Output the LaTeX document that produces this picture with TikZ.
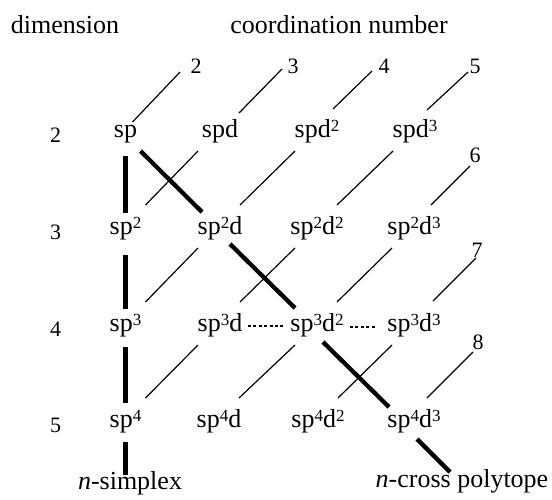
\documentclass[tikz,border=0pt]{standalone}
\usepackage{fontspec}
\setmainfont{Liberation Serif}
\usetikzlibrary{calc}
\newcommand{\su}[1]{\raisebox{3pt}{\fontsize{8.5}{8.5}\selectfont #1}}
\begin{document}
\begin{tikzpicture}[x=0.5pt,y=-0.5pt,
  lab/.style={font=\fontsize{13}{15}\selectfont, inner sep=0pt, text height=5.85pt, text depth=0pt},
  num/.style={font=\fontsize{11}{13}\selectfont, inner sep=0pt, text height=7.4pt, text depth=0pt},
  cline/.style={line width=0.6pt},
  heavy/.style={line width=2.15pt},
  dotline/.style={line width=0.7pt, dash pattern=on 1.5pt off 1.2pt}]
\useasboundingbox (0,0) rectangle (552,499);
% titles
\node[lab] (dim) at (65,28) {dimension};
\node[lab] (coord) at (339,28) {coordination number};
% row labels
\node[num] (r2) at (55.5,135) {2};
\node[num] (r3) at (55.5,232) {3};
\node[num] (r4) at (55.5,329) {4};
\node[num] (r5) at (55.5,425) {5};
% coordination labels
\node[num] (c2) at (196,66) {2};
\node[num] (c3) at (293,66) {3};
\node[num] (c4) at (384,66) {4};
\node[num] (c5) at (475,66) {5};
\node[num] (c6) at (475,155) {6};
\node[num] (c7) at (477,250) {7};
\node[num] (c8) at (478,342) {8};
% grid
\node[lab] (sp)    at (125.5,132) {sp};
\node[lab] (spd)   at (220,132) {spd};
\node[lab] (spd2)  at (317,132) {spd\su{2}};
\node[lab] (spd3)  at (415,132) {spd\su{3}};
\node[lab] (sp2)   at (125.5,229) {sp\su{2}};
\node[lab] (sp2d)  at (220,229) {sp\su{2}d};
\node[lab] (sp2d2) at (317,229) {sp\su{2}d\su{2}};
\node[lab] (sp2d3) at (414,229) {sp\su{2}d\su{3}};
\node[lab] (sp3)   at (125.5,326) {sp\su{3}};
\node[lab] (sp3d)  at (220,326) {sp\su{3}d};
\node[lab] (sp3d2) at (317,326) {sp\su{3}d\su{2}};
\node[lab] (sp3d3) at (414,326) {sp\su{3}d\su{3}};
\node[lab] (sp4)   at (125.5,422) {sp\su{4}};
\node[lab] (sp4d)  at (219,422) {sp\su{4}d};
\node[lab] (sp4d2) at (318,422) {sp\su{4}d\su{2}};
\node[lab] (sp4d3) at (414,422) {sp\su{4}d\su{3}};
% bottom labels
\node[lab] (simplex) at (130,484) {\textit{n}-simplex};
\node[lab] (cross) at (462,482) {\textit{n}-cross polytope};
% thick vertical path (n-simplex)
\draw[heavy] ([shift={(0,24)}]sp.center) -- ([shift={(0,-16)}]sp2.center);
\draw[heavy] ([shift={(0,26)}]sp2.center) -- ([shift={(0,-17)}]sp3.center);
\draw[heavy] ([shift={(0,21)}]sp3.center) -- ([shift={(0,-19)}]sp4.center);
\draw[heavy] ([shift={(0,20)}]sp4.center) -- ($(sp4.center |- simplex.north)+(0,-3)$);
% thick diagonal path (n-cross polytope)
\draw[heavy] ([shift={(15,19)}]sp.center) -- ([shift={(-18,-17)}]sp2d.center);
\draw[heavy] ([shift={(10,15)}]sp2d.center) -- ([shift={(-22,-18)}]sp3d2.center);
\draw[heavy] ([shift={(6,16)}]sp3d2.center) -- ([shift={(-25,-15)}]sp4d3.center);
\draw[heavy] ([shift={(3,17)}]sp4d3.center) -- ([shift={(-12,-10)}]cross.center);
% thin coordination lines
\foreach \a/\b in {sp2/spd, sp3/sp2d, sp2d/spd2, sp4/sp3d, sp3d/sp2d2, sp2d2/spd3, sp4d/sp3d2, sp3d2/sp2d3, sp4d2/sp3d3}
  \draw[cline] ([shift={(20,-24)}]\a.center) -- ([shift={(-22,19)}]\b.center);
\draw[cline] ([shift={(7,-10)}]sp.center) -- ([shift={(-16,6)}]c2.center);
\draw[cline] ([shift={(19,-19)}]spd.center) -- ([shift={(-11,3)}]c3.center);
\draw[cline] ([shift={(16,-23)}]spd2.center) -- ([shift={(-12,5)}]c4.center);
\draw[cline] ([shift={(12,-22)}]spd3.center) -- ([shift={(-7,6)}]c5.center);
\draw[cline] ([shift={(17,-24)}]sp2d3.center) -- ([shift={(-5,11)}]c6.center);
\draw[cline] ([shift={(19,-25)}]sp3d3.center) -- ([shift={(-1,8)}]c7.center);
\draw[cline] ([shift={(13,-24)}]sp4d3.center) -- ([shift={(-5,10)}]c8.center);
% dotted lines
\draw[dotline] ([shift={(28,0)}]sp3d.center) -- ([shift={(-34,0)}]sp3d2.center);
\draw[dotline] ([shift={(33,1)}]sp3d2.center) -- ([shift={(-37,1)}]sp3d3.center);
\end{tikzpicture}
\end{document}
